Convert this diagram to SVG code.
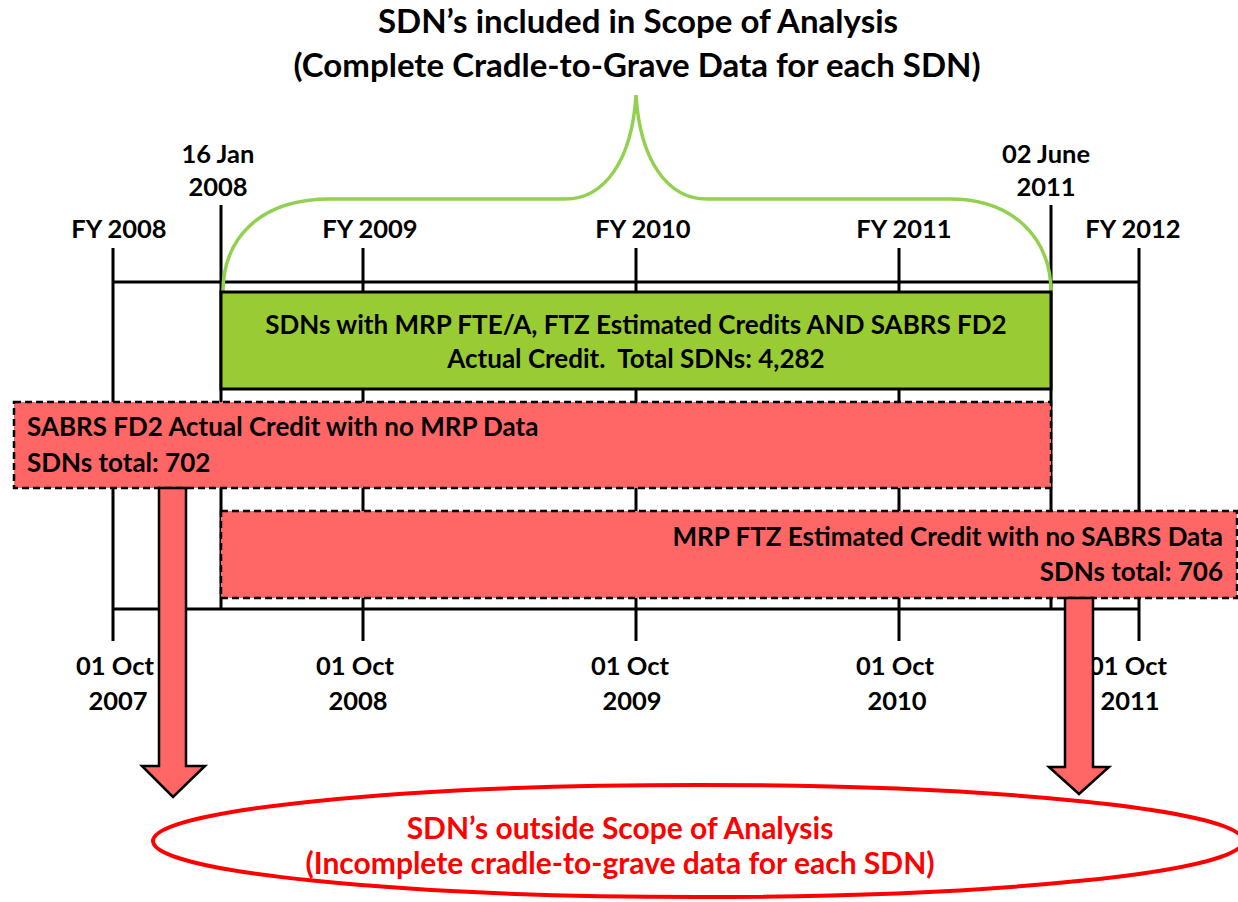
<svg xmlns="http://www.w3.org/2000/svg" width="1238" height="902" viewBox="0 0 1238 902">
<style>
text{font-family:"Lato","Open Sans",sans-serif;font-weight:bold;fill:#000}
.lbl{font-size:25.5px;text-anchor:middle}
.box{font-size:26px}
.tl{stroke:#000;stroke-width:3;fill:none}
.red{fill:#FF6666;stroke:#000;stroke-width:2.5;stroke-dasharray:7 4}
.arrow{fill:#FF6666;stroke:#000;stroke-width:2.5;stroke-linejoin:miter}
</style>
<rect width="1238" height="902" fill="#fff"/>
<g id="title">
<text x="638" y="33" style="font-size:33px;text-anchor:middle">SDN’s included in Scope of Analysis</text>
<text x="637" y="77" style="font-size:33px;text-anchor:middle">(Complete Cradle-to-Grave Data for each SDN)</text>
</g>
<g id="timeline">
<path class="tl" d="M113,282 H1139 M113,609 H1139 M113,248 V641 M363,248 V641 M636,248 V641 M899,248 V641 M1139,248 V641 M221,205 V609 M1051,205 V609"/>
<text class="lbl" x="119" y="238">FY 2008</text>
<text class="lbl" x="370" y="238">FY 2009</text>
<text class="lbl" x="643" y="238">FY 2010</text>
<text class="lbl" x="904" y="238">FY 2011</text>
<text class="lbl" x="1133" y="238">FY 2012</text>
<text class="lbl" x="218" y="163">16 Jan</text>
<text class="lbl" x="218" y="196">2008</text>
<text class="lbl" x="1046" y="163">02 June</text>
<text class="lbl" x="1046" y="196">2011</text>
<text class="lbl" x="115" y="675">01 Oct</text>
<text class="lbl" x="118" y="710">2007</text>
<text class="lbl" x="355" y="675">01 Oct</text>
<text class="lbl" x="358" y="710">2008</text>
<text class="lbl" x="630" y="675">01 Oct</text>
<text class="lbl" x="632" y="710">2009</text>
<text class="lbl" x="895" y="675">01 Oct</text>
<text class="lbl" x="897" y="710">2010</text>
<text class="lbl" x="1128" y="675">01 Oct</text>
<text class="lbl" x="1130" y="710">2011</text>
</g>
<g id="brace">
<path d="M223,292 C223,240 258,199 330,199 L565,199 C605,199 632,160 636,95 C640,160 667,199 707,199 L950,199 C1015,199 1051,240 1051,292" fill="none" stroke="#92D050" stroke-width="3.5"/>
</g>
<g id="green-box">
<rect x="221" y="292" width="830" height="97" fill="#99CC33" stroke="#000" stroke-width="3"/>
<text class="box" x="636" y="334" text-anchor="middle">SDNs with MRP FTE/A, FTZ Estimated Credits AND SABRS FD2</text>
<text class="box" x="636" y="368" text-anchor="middle" xml:space="preserve">Actual Credit.  Total SDNs: 4,282</text>
</g>
<g id="sabrs-box">
<rect class="red" x="14" y="402" width="1037" height="86"/>
<text class="box" x="27" y="436">SABRS FD2 Actual Credit with no MRP Data</text>
<text class="box" x="27" y="472">SDNs total: 702</text>
</g>
<g id="mrp-box">
<rect class="red" x="221" y="511" width="1016" height="87"/>
<text class="box" x="1223" y="546" text-anchor="end">MRP FTZ Estimated Credit with no SABRS Data</text>
<text class="box" x="1223" y="581" text-anchor="end">SDNs total: 706</text>
</g>
<g id="connectors">
<polygon class="arrow" points="159,488 186,488 186,766 205,766 173,797 142,766 159,766"/>
<polygon class="arrow" points="1065,598 1093,598 1093,767 1109,767 1079,794 1049,767 1065,767"/>
</g>
<g id="outside">
<ellipse cx="698" cy="841" rx="545" ry="56" fill="none" stroke="#FF0000" stroke-width="4"/>
<text x="620" y="839" style="font-size:30px;text-anchor:middle;fill:#FF0000">SDN’s outside Scope of Analysis</text>
<text x="620" y="874" style="font-size:30px;text-anchor:middle;fill:#FF0000">(Incomplete cradle-to-grave data for each SDN)</text>
</g>
</svg>
